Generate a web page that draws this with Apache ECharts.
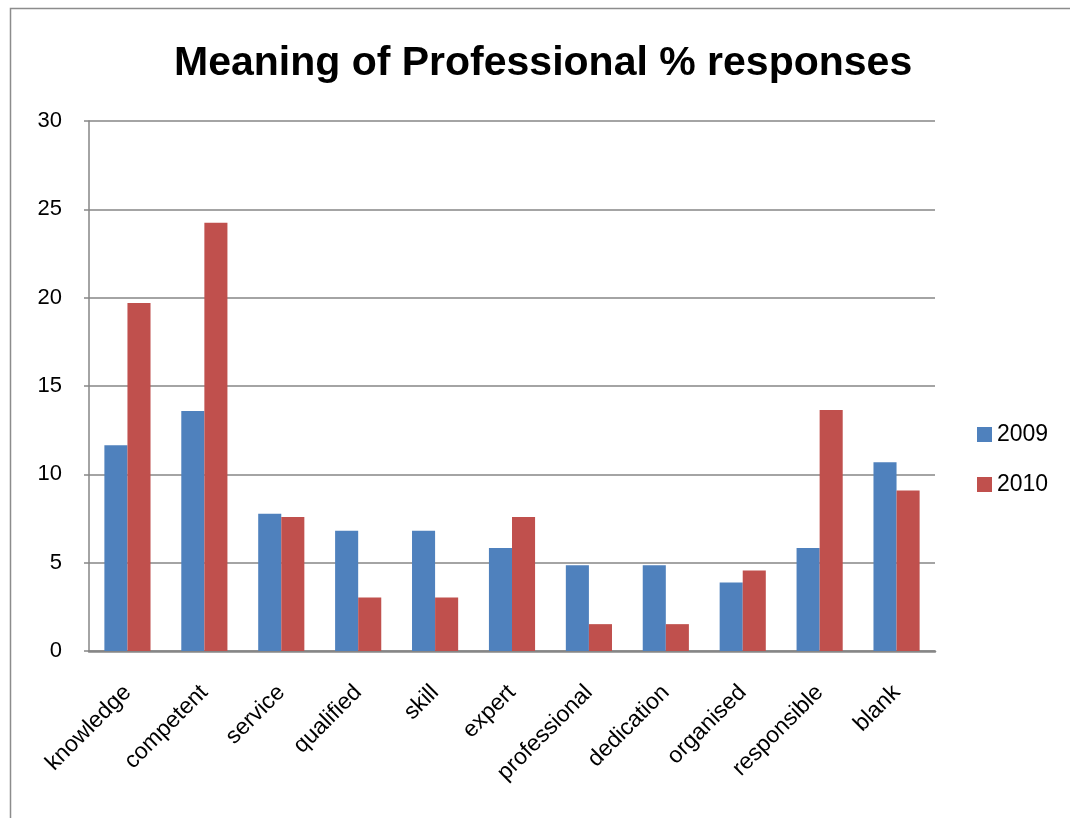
<!DOCTYPE html>
<html>
<head>
    <meta charset="UTF-8">
    <style>
        html, body { margin: 0; padding: 0; background: #fff; }
        #container { width: 1070px; height: 818px; }
    </style>
</head>
<body>
<div id="container"></div>

<script src="https://cdn.jsdelivr.net/npm/echarts@6/dist/echarts.min.js"></script>
<script type="text/javascript">
    // data
    var categories = ['knowledge', 'competent', 'service', 'qualified', 'skill', 'expert',
        'professional', 'dedication', 'organised', 'responsible', 'blank'];
    var seriesNames = ['2009', '2010'];
    var values2009 = [11.65, 13.59, 7.77, 6.8, 6.8, 5.83, 4.85, 4.85, 3.88, 5.83, 10.68];
    var values2010 = [19.7, 24.24, 7.58, 3.03, 3.03, 7.58, 1.52, 1.52, 4.55, 13.64, 9.09];
    var yTicks = [0, 5, 10, 15, 20, 25, 30];

    var font = 'Liberation Sans';
    var myChart = echarts.init(document.getElementById('container'), null, {renderer: 'canvas'});

    var option = {
        animation: false,
        backgroundColor: '#fff',
        color: ['#4F81BD', '#C0504D'],
        title: {
            text: 'Meaning of Professional % responses',
            left: 174,
            top: 43,
            padding: 0,
            textStyle: {
                fontFamily: font,
                fontSize: 41,
                fontWeight: 'bold',
                color: '#000'
            }
        },
        graphic: [{
            type: 'rect',
            shape: {x: 10.5, y: 8.5, width: 1080, height: 840},
            style: {fill: 'none', stroke: '#8c8c8c', lineWidth: 1.5},
            silent: true
        }],
        legend: {
            orient: 'vertical',
            left: 977,
            top: 423,
            padding: 0,
            itemWidth: 15,
            itemHeight: 15,
            itemGap: 27,
            icon: 'rect',
            data: seriesNames,
            textStyle: {fontFamily: font, fontSize: 23, color: '#000'}
        },
        grid: {
            left: 89,
            right: 135,
            top: 121,
            bottom: 167
        },
        xAxis: {
            type: 'category',
            data: categories,
            axisLine: {lineStyle: {color: '#868686', width: 2.5}},
            axisTick: {show: false},
            axisLabel: {
                rotate: 45,
                interval: 0,
                margin: 38,
                fontFamily: font,
                fontSize: 23,
                color: '#000'
            }
        },
        yAxis: {
            type: 'value',
            min: yTicks[0],
            max: yTicks[yTicks.length - 1],
            interval: yTicks[1] - yTicks[0],
            axisLine: {show: true, lineStyle: {color: '#868686', width: 1.5}},
            axisTick: {show: true, length: 5, lineStyle: {color: '#868686', width: 1.5}},
            splitLine: {lineStyle: {color: '#868686', width: 1.5}},
            axisLabel: {
                margin: 27,
                fontFamily: font,
                fontSize: 22,
                color: '#000'
            }
        },
        series: [
            {
                name: seriesNames[0],
                type: 'bar',
                data: values2009,
                barGap: '0%',
                barCategoryGap: '40%'
            },
            {
                name: seriesNames[1],
                type: 'bar',
                data: values2010,
                barGap: '0%',
                barCategoryGap: '40%'
            }
        ]
    };

    myChart.setOption(option);
    window.addEventListener('resize', myChart.resize);
</script>
</body>
</html>
